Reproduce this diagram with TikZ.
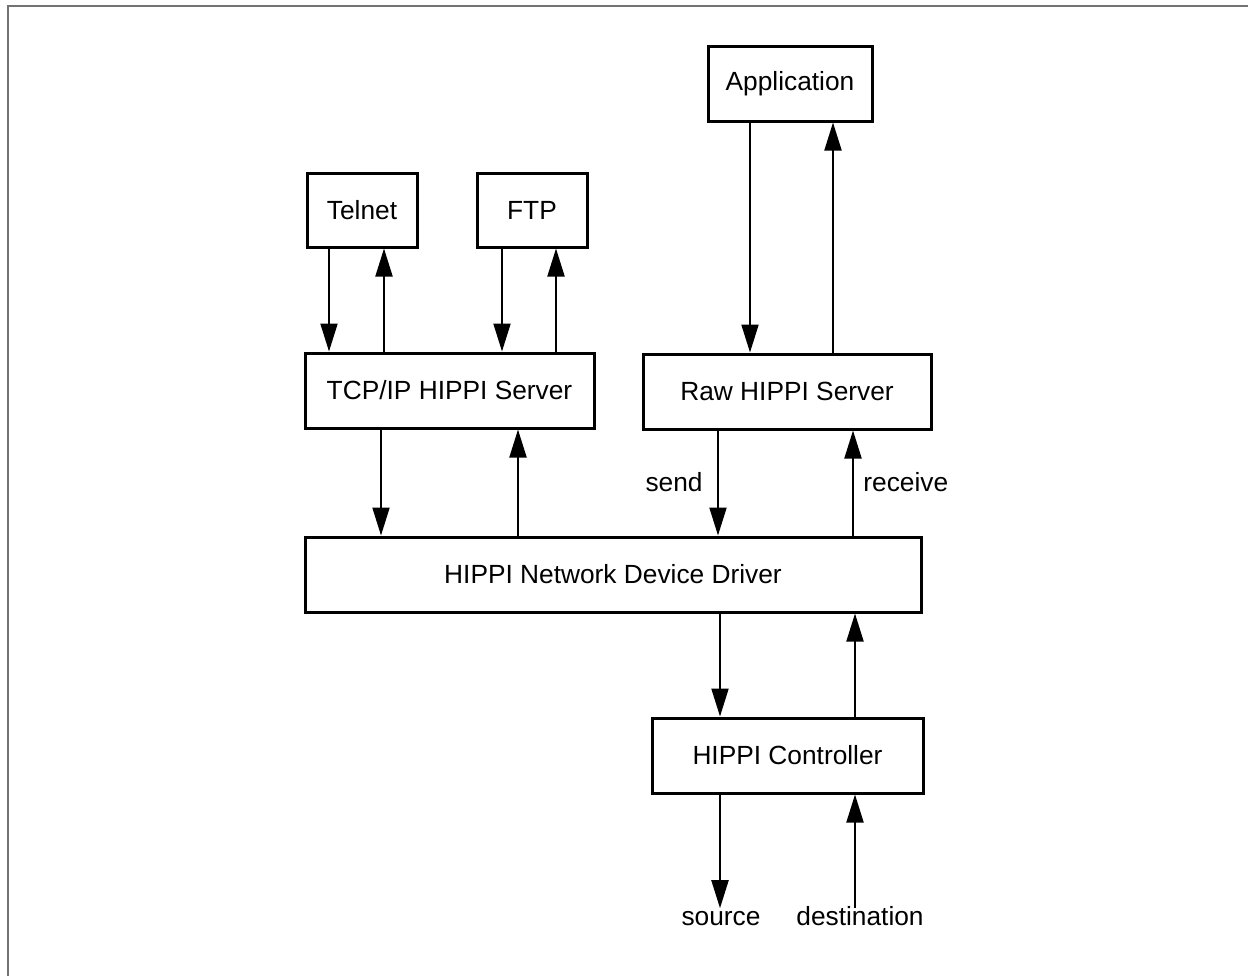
\documentclass[tikz,border=0pt]{standalone}
\usepackage{fontspec}
\setmainfont{Liberation Sans}
\usetikzlibrary{arrows.meta}
\begin{document}
\begin{tikzpicture}[x=0.5pt,y=-0.5pt,
  txt/.style={font=\fontsize{13.15}{15}\selectfont},
  box/.style={txt,draw,line width=1.5pt,inner sep=0pt},
  arr/.style={line width=1pt,-{Triangle[length=14pt,width=8.5pt]}},
  lbl/.style={txt,inner sep=0pt,text height=0.72em,text depth=0.2em}]
\useasboundingbox (0,0) rectangle (1248,976);
\draw[black!55,line width=1pt] (7.5,976) -- (7.5,5.5) -- (1248,5.5);

\node[box,minimum width=55pt,minimum height=37pt] (tel) at (362,210) {Telnet};
\node[box,minimum width=55pt,minimum height=37pt] (ftp) at (532,210) {FTP};
\node[box,minimum width=82pt,minimum height=37.5pt] (app) at (790,83.5) {Application};
\node[box,minimum width=144.5pt,minimum height=37.5pt] (tcp) at (449.5,390.5) {TCP/IP HIPPI Server};
\node[box,minimum width=144pt,minimum height=37.5pt] (raw) at (787,391.5) {Raw HIPPI Server};
\node[box,minimum width=308pt,minimum height=37.5pt] (drv) at (613,574.5) {HIPPI Network Device Driver};
\node[box,minimum width=135.5pt,minimum height=37.5pt] (ctl) at (787.5,755.5) {HIPPI Controller};

\node[lbl,anchor=east] (send) at (703,486) {send};
\node[lbl,anchor=west] (recv) at (863,486) {receive};
\node[lbl,anchor=base] (src) at (721,925) {source};
\node[lbl,anchor=base] (dst) at (860,925) {destination};

\coordinate (x1) at (329,0);
\coordinate (x2) at (384,0);
\coordinate (x3) at (502,0);
\coordinate (x4) at (556,0);
\coordinate (x5) at (750,0);
\coordinate (x6) at (833,0);
\coordinate (x7) at (381,0);
\coordinate (x8) at (518,0);
\coordinate (x9) at (718,0);
\coordinate (x10) at (853,0);
\coordinate (x11) at (720,0);
\coordinate (x12) at (855,0);

\draw[arr] (tel.south -| x1) -- (tcp.north -| x1);
\draw[arr] (tcp.north -| x2) -- (tel.south -| x2);
\draw[arr] (ftp.south -| x3) -- (tcp.north -| x3);
\draw[arr] (tcp.north -| x4) -- (ftp.south -| x4);
\draw[arr] (app.south -| x5) -- (raw.north -| x5);
\draw[arr] (raw.north -| x6) -- (app.south -| x6);
\draw[arr] (tcp.south -| x7) -- (drv.north -| x7);
\draw[arr] (drv.north -| x8) -- (tcp.south -| x8);
\draw[arr] (raw.south -| x9) -- (drv.north -| x9);
\draw[arr] (drv.north -| x10) -- (raw.south -| x10);
\draw[arr] (drv.south -| x11) -- (ctl.north -| x11);
\draw[arr] (ctl.north -| x12) -- (drv.south -| x12);
\draw[arr] (ctl.south -| x11) -- ([yshift=1pt]src.north -| x11);
\draw[arr] ([yshift=1pt]dst.north -| x12) -- (ctl.south -| x12);
\end{tikzpicture}
\end{document}
